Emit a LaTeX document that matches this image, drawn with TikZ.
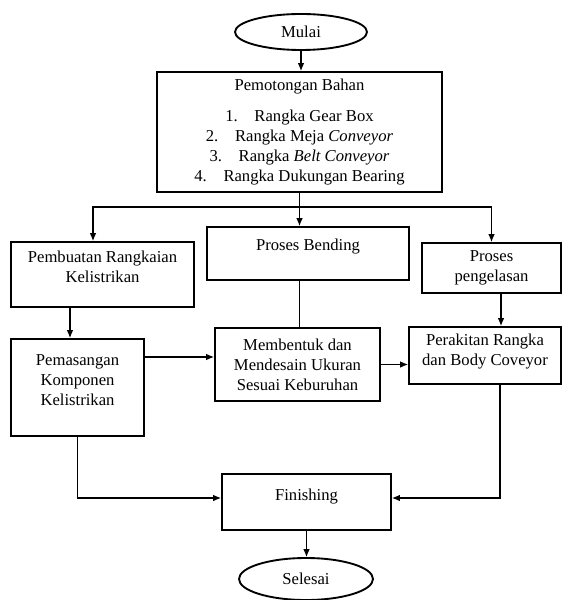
\documentclass[tikz,border=0pt]{standalone}
\usepackage{fontspec}
\setmainfont{Liberation Serif}
\usepackage{tikz}
\usetikzlibrary{shapes,arrows.meta}

\begin{document}
\begin{tikzpicture}[x=0.03cm,y=-0.03cm,
  font=\fontsize{14.2}{17}\selectfont,
  >={Latex[length=2.4mm,width=2mm]},
  box/.style={draw, line width=1.6pt, align=center, inner sep=2pt},
  term/.style={draw, ellipse, line width=1.6pt, inner sep=0pt},
  link/.style={line width=1pt}]

\useasboundingbox (0,0) rectangle (562,600);

\node [term, minimum width=3.96cm, minimum height=1.08cm] (start) at (301,32) {Mulai};

\node [box, minimum width=8.55cm, minimum height=3.6cm] (cut) at (299.5,132)
  {Pemotongan Bahan\\[0.33cm]
   1.\quad Rangka Gear Box\\
   2.\quad Rangka Meja \textit{Conveyor}\\
   3.\quad Rangka \textit{Belt Conveyor}\\
   4.\quad Rangka Dukungan Bearing};

\node [box, minimum width=5.49cm, minimum height=1.95cm, text depth=0.44cm] (wiring) at (102.5,274.5)
  {Pembuatan Rangkaian\\Kelistrikan};
\node [box, minimum width=6.06cm, minimum height=1.59cm, text depth=0.5cm] (bend) at (308,253.5)
  {Proses Bending};
\node [box, minimum width=4.17cm, minimum height=1.5cm] (weld) at (491.5,268)
  {Proses\\pengelasan};

\node [box, minimum width=3.99cm, minimum height=2.91cm, text depth=0.44cm] (mount) at (77.5,387.5)
  {Pemasangan\\Komponen\\Kelistrikan};
\node [box, minimum width=4.95cm, minimum height=2.19cm] (shape) at (297.5,364.5)
  {Membentuk dan\\Mendesain Ukuran\\Sesuai Keburuhan};
\node [box, minimum width=4.56cm, minimum height=1.71cm, text depth=0.35cm] (build) at (485,355.5)
  {Perakitan Rangka\\dan Body Coveyor};

\node [box, minimum width=5.07cm, minimum height=1.68cm, text depth=0.41cm] (finish) at (306.5,502)
  {Finishing};
\node [term, minimum width=4.02cm, minimum height=1.26cm] (stop) at (306,579) {Selesai};

\coordinate (split) at (299.5,207);

\draw [link, ->] (start.south) -- (start.south |- cut.north);
\draw [link] (cut.south) -- (split);
\draw [link, ->] (split) -| ([xshift=-0.285cm]wiring.north);
\draw [link, ->] (split) -- (split |- bend.north);
\draw [link, ->] (split) -| (weld.north);

\draw [link, ->] ([xshift=-0.975cm]wiring.south) -- ([xshift=-0.975cm]wiring.south |- mount.north);
\draw [link] (split |- bend.south) -- (split |- shape.north);
\draw [link, ->] ([xshift=0.285cm]weld.south) -- ([xshift=0.285cm]weld.south |- build.north);

\draw [link, ->] ([yshift=0.915cm]mount.east) -- ([yshift=0.915cm]mount.east -| shape.west);
\draw [link, ->] (shape.east) -- (shape.east -| build.west);

\draw [link, ->] (mount.south) |- ([yshift=0.12cm]finish.west);
\draw [link, ->] ([xshift=0.45cm]build.south) |- ([yshift=0.12cm]finish.east);
\draw [link, ->] (finish.south) -- (finish.south |- stop.north);

\end{tikzpicture}
\end{document}
